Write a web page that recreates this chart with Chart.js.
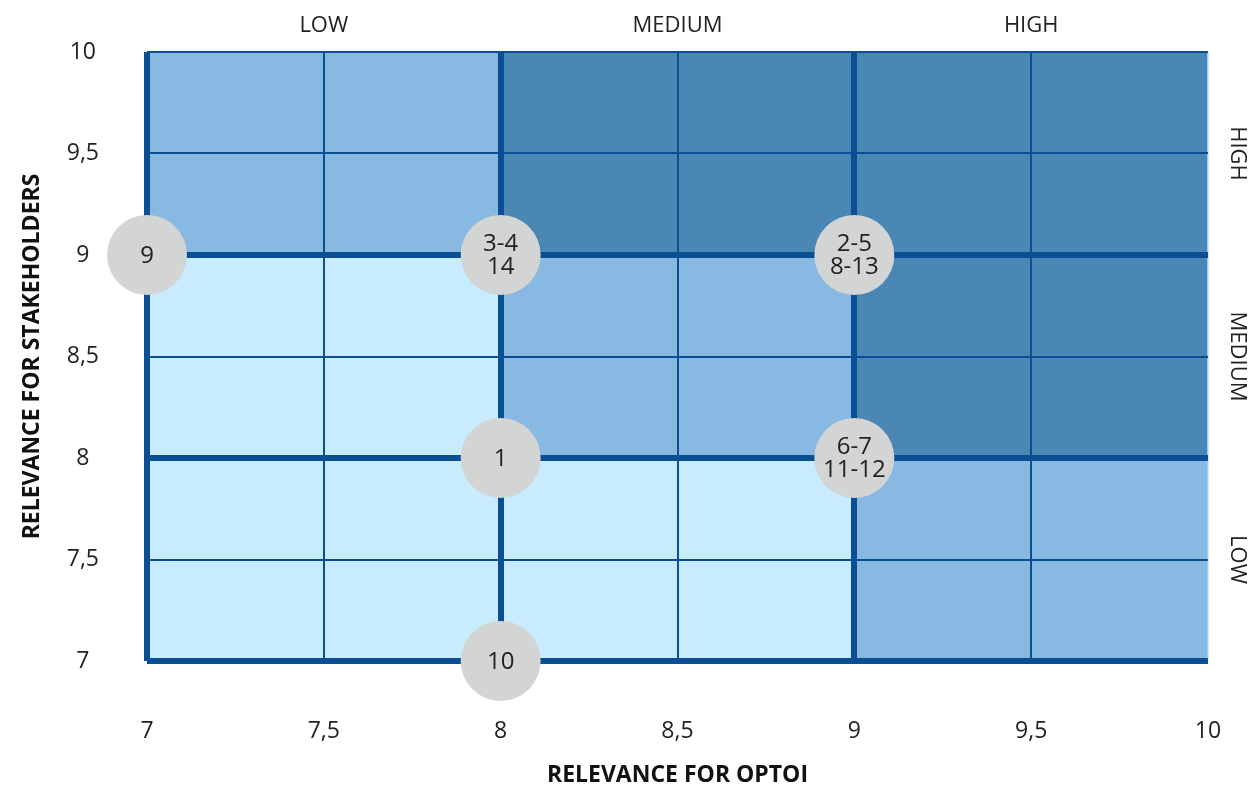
<!DOCTYPE html>
<html>
<head>
<meta charset="utf-8">
<script src="https://cdn.jsdelivr.net/npm/chart.js@4/dist/chart.umd.min.js"></script>
<style>
  html, body { margin: 0; padding: 0; background: #fff; }
  #wrap { width: 1249px; height: 792px; }
</style>
</head>
<body>
<div id="wrap"><canvas id="matrix"></canvas></div>
<script>
// axis ticks
const axisMin = 7;
const axisMax = 10;
const tickStep = 0.5;
const majorLines = [7, 8, 9];

// level bands (same on both axes)
const bandEdges = [7, 8, 9, 10];
const levelNames = ['LOW', 'MEDIUM', 'HIGH'];
const levelCenters = [7.5, 8.5, 9.5];

// cell level, rows from y 7-8 up to 9-10, columns x 7-8 .. 9-10
const cellLevels = [
    [0, 0, 1],
    [0, 1, 2],
    [1, 2, 2]
];
const cellColors = ['#c8ebfd', '#87b9e3', '#4b87b5'];

// topics placed on the matrix
const topicX = [7, 8, 9, 8, 9, 8];
const topicY = [9, 9, 9, 8, 8, 7];
const topicLabels = [['9'], ['3-4', '14'], ['2-5', '8-13'], ['1'], ['6-7', '11-12'], ['10']];

const lineDark = '#0a4f94';
const fontFam = '"Open Sans", "Noto Sans", sans-serif';

function fmt(v) {
    return String(v).replace('.', ',');
}

function gridWidth(ctx) {
    const v = ctx.tick ? ctx.tick.value : null;
    if (majorLines.includes(v)) return 6;
    return 2;
}

const matrixPlugin = {
    id: 'matrix',
    beforeDraw(chart) {
        const { ctx, scales: { x, y } } = chart;
        ctx.save();
        cellLevels.forEach((row, r) => {
            row.forEach((lvl, c) => {
                const x0 = x.getPixelForValue(bandEdges[c]);
                const x1 = x.getPixelForValue(bandEdges[c + 1]);
                const y0 = y.getPixelForValue(bandEdges[r]);
                const y1 = y.getPixelForValue(bandEdges[r + 1]);
                ctx.fillStyle = cellColors[lvl];
                ctx.fillRect(x0, y1, x1 - x0, y0 - y1);
            });
        });
        ctx.restore();
    },
    afterDatasetsDraw(chart) {
        const { ctx } = chart;
        const meta = chart.getDatasetMeta(0);
        ctx.save();
        ctx.font = '24px ' + fontFam;
        ctx.fillStyle = '#222';
        ctx.textAlign = 'center';
        ctx.textBaseline = 'middle';
        meta.data.forEach((pt, i) => {
            const lines = topicLabels[i];
            const lh = 23;
            const start = pt.y - (lines.length - 1) * lh / 2 + 1;
            lines.forEach((t, k) => ctx.fillText(t, pt.x, start + k * lh));
        });
        ctx.restore();
    },
    afterDraw(chart) {
        // rotated level names on the right side
        const { ctx, chartArea, scales: { y } } = chart;
        ctx.save();
        ctx.font = '22px ' + fontFam;
        ctx.fillStyle = '#222';
        ctx.textAlign = 'center';
        ctx.textBaseline = 'middle';
        levelCenters.forEach((v, i) => {
            ctx.save();
            ctx.translate(chartArea.right + 29, y.getPixelForValue(v));
            ctx.rotate(Math.PI / 2);
            ctx.fillText(levelNames[i], 0, 0);
            ctx.restore();
        });
        ctx.restore();
    }
};

new Chart(document.getElementById('matrix'), {
    type: 'scatter',
    data: {
        datasets: [{
            data: topicX.map((v, i) => ({ x: v, y: topicY[i] })),
            backgroundColor: '#d3d4d4',
            borderWidth: 0,
            pointRadius: 40,
            pointHoverRadius: 40,
            clip: false
        }]
    },
    options: {
        responsive: true,
        maintainAspectRatio: false,
        animation: false,
        events: [],
        layout: { autoPadding: false, padding: { left: 18, right: 41, top: 0, bottom: 0 } },
        plugins: {
            legend: { display: false },
            tooltip: { enabled: false }
        },
        scales: {
            x: {
                type: 'linear',
                position: 'bottom',
                min: axisMin,
                max: axisMax,
                ticks: {
                    stepSize: tickStep,
                    padding: 57,
                    color: '#222',
                    font: { family: fontFam, size: 23 },
                    callback: fmt,
                    maxRotation: 0
                },
                grid: {
                    drawTicks: false,
                    color: (c) => (c.tick && c.tick.value === axisMax) ? '#a9cbe9' : lineDark,
                    lineWidth: (c) => (c.tick && c.tick.value === axisMax) ? 1.5 : gridWidth(c)
                },
                border: { display: false },
                title: {
                    display: true,
                    text: 'RELEVANCE FOR OPTOI',
                    color: '#111',
                    font: { family: fontFam, size: 23, weight: 'bold' },
                    padding: { top: 0, bottom: 3 }
                },
                afterFit: (s) => { s.height = 131; s.paddingLeft = 0; s.paddingRight = 0; }
            },
            x2: {
                type: 'linear',
                position: 'top',
                min: axisMin,
                max: axisMax,
                afterBuildTicks: (s) => { s.ticks = levelCenters.map(v => ({ value: v })); },
                ticks: {
                    padding: 13,
                    color: '#222',
                    font: { family: fontFam, size: 22 },
                    callback: (v) => levelNames[levelCenters.indexOf(v)],
                    maxRotation: 0
                },
                grid: { display: false, drawTicks: false },
                border: { display: false },
                afterFit: (s) => { s.height = 52; s.paddingLeft = 0; s.paddingRight = 0; }
            },
            y: {
                type: 'linear',
                position: 'left',
                min: axisMin,
                max: axisMax,
                ticks: {
                    stepSize: tickStep,
                    padding: 48,
                    crossAlign: 'center',
                    color: '#222',
                    font: { family: fontFam, size: 23 },
                    callback: fmt
                },
                grid: {
                    drawTicks: false,
                    color: lineDark,
                    lineWidth: gridWidth
                },
                border: { display: false },
                title: {
                    display: true,
                    text: 'RELEVANCE FOR STAKEHOLDERS',
                    color: '#111',
                    font: { family: fontFam, size: 23, weight: 'bold' },
                    padding: { top: 1, bottom: 0 }
                },
                afterFit: (s) => { s.width = 129; s.paddingTop = 0; s.paddingBottom = 0; }
            }
        }
    },
    plugins: [matrixPlugin]
});
</script>
</body>
</html>
